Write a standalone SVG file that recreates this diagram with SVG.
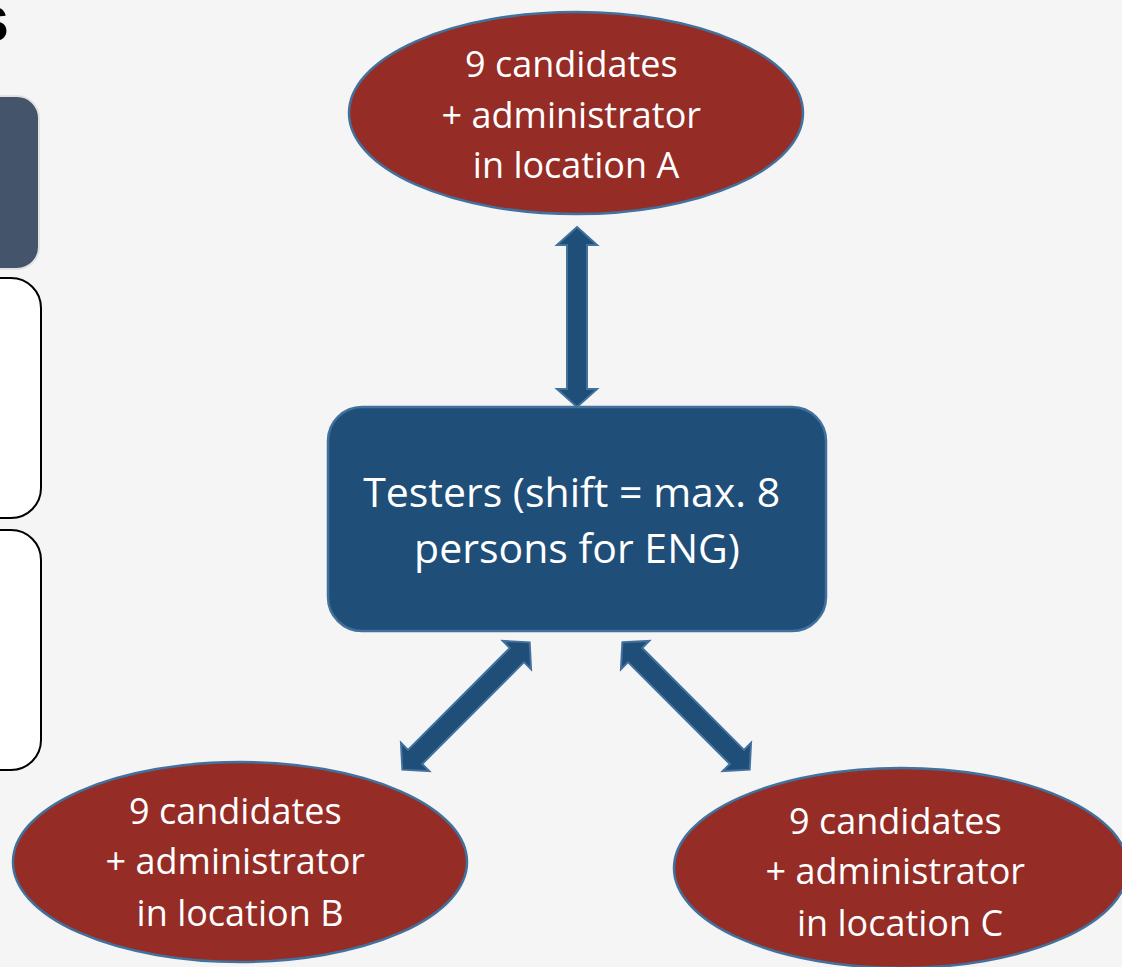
<svg xmlns="http://www.w3.org/2000/svg" width="1122" height="967" viewBox="0 0 1122 967">
  <style>
    .ell { fill: #962c26; stroke: #41719c; stroke-width: 2.5; }
    .box { fill: #1f4e79; stroke: #41719c; stroke-width: 2.5; }
    .lbl { font-family: "Open Sans", "Noto Sans", sans-serif; fill: #ffffff; text-anchor: middle; }
    .arrow { fill: #1f4e79; stroke: #41719c; stroke-width: 2; stroke-linejoin: miter; }
    .side { fill: #ffffff; stroke: #000000; stroke-width: 2; }
  </style>
  <defs>
    <path id="dblArrow" d="M0,-90 L20,-72 L10,-72 L10,72 L20,72 L0,90 L-20,72 L-10,72 L-10,-72 L-20,-72 Z"/>
  </defs>
  <rect x="0" y="0" width="1122" height="967" fill="#f5f5f5"/>

  <!-- left partial slide elements -->
  <g id="side-elements">
    <text x="9" y="41" font-family="Liberation Sans, Arial, sans-serif" font-weight="bold" font-size="64" text-anchor="end" fill="#000000">s</text>
    <rect x="-40" y="96" width="79" height="173" rx="22" ry="22" fill="#44546a" stroke="#e2e2e2" stroke-width="2"/>
    <rect x="-40" y="278" width="81" height="240" rx="30" ry="30" class="side"/>
    <rect x="-40" y="530" width="81" height="240" rx="30" ry="30" class="side"/>
  </g>

  <!-- connectors -->
  <g id="connectors">
    <use href="#dblArrow" class="arrow" transform="translate(577,317)"/>
    <use href="#dblArrow" class="arrow" transform="translate(466,706) rotate(45)"/>
    <use href="#dblArrow" class="arrow" transform="translate(686,706) rotate(-45)"/>
  </g>

  <g id="node-a">
    <ellipse cx="576" cy="113" rx="227" ry="101" class="ell"/>
    <text class="lbl" font-size="36">
      <tspan x="576" y="77">9 candidates</tspan>
      <tspan x="576" y="128">+ administrator</tspan>
      <tspan x="576" y="178">in location A</tspan>
    </text>
  </g>

  <g id="node-testers">
    <rect x="328" y="407" width="498" height="224" rx="34" ry="34" class="box"/>
    <text class="lbl" font-size="41">
      <tspan x="577" y="507">Testers (shift = max. 8</tspan>
      <tspan x="577" y="563">persons for ENG)</tspan>
    </text>
  </g>

  <g id="node-b">
    <ellipse cx="240" cy="862" rx="227" ry="100" class="ell"/>
    <text class="lbl" font-size="36">
      <tspan x="240" y="824">9 candidates</tspan>
      <tspan x="240" y="874">+ administrator</tspan>
      <tspan x="240" y="926">in location B</tspan>
    </text>
  </g>

  <g id="node-c">
    <ellipse cx="901" cy="868" rx="227" ry="100" class="ell"/>
    <text class="lbl" font-size="36">
      <tspan x="900" y="834">9 candidates</tspan>
      <tspan x="900" y="884">+ administrator</tspan>
      <tspan x="900" y="936">in location C</tspan>
    </text>
  </g>
</svg>
